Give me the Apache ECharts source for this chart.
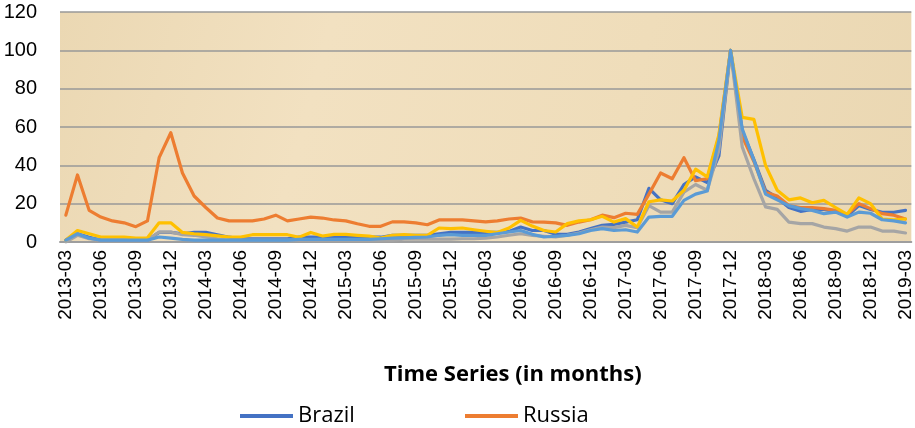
<!DOCTYPE html>
<html>
<head>
<meta charset="utf-8">
<script src="https://cdn.jsdelivr.net/npm/echarts@6/dist/echarts.min.js"></script>
<style>
html,body{margin:0;padding:0;background:#fff;}
#chart{width:915px;height:428px;}
</style>
</head>
<body>
<div id="chart"></div>
<script>
// Months 2013-03 .. 2019-03
const months = [];
for (let y = 2013; y <= 2019; y++) {
  for (let m = 1; m <= 12; m++) {
    if ((y === 2013 && m < 3) || (y === 2019 && m > 3)) continue;
    months.push(y + '-' + (m < 10 ? '0' + m : '' + m));
  }
}
const yTicks = [0, 20, 40, 60, 80, 100, 120];

const brazil = [1,4.3,2.5,1,1,1,1,1,5,5,4.3,5,5,3.8,2.5,1.7,1.7,1.7,1.7,1.7,
  2.5,2.5,2.5,2.5,2.5,2.5,2.5,2.5,3.5,3.5,3.5,3.5,4.3,5,5,5,5,5,5.5,7.8,
  6,6,4,4,5.2,7,8.7,9.2,10.4,11.6,28,22,20,30,34,31,45,100,58,43,
  27,23,18,16,17,17,16,13.5,19,17,15.5,15.5,16.5];
const russia = [14,35,16.5,13,11,10,8,11,44,57,36,24,18,12.5,11,11,11,12,14,11,
  12,13,12.5,11.5,11,9.5,8.2,8.2,10.5,10.5,10,9,11.5,11.5,11.5,11,10.5,11,12,12.5,
  10.5,10.4,10,8.7,10.4,11.6,14,12.7,15,14.4,25,36,33,44,32,33,55,100,55,42,
  26,24,19,18,18,17.4,16.5,14.4,20,17.4,14.8,14,12];
const india = [0,3.5,1.7,1,1,1,1,1,5.2,5.2,3.8,3.5,2.6,1.7,1,1,1,1,1,1,
  1,1,1,1,1,1,1,1,1,1.5,1.5,1.5,1.5,1.5,1.7,1.7,2,2.6,3.5,4.3,
  3.5,3,2.6,3.5,4.7,6.4,7.8,7.5,8.7,7.5,19,15.6,15.6,26,30,27,48,100,49.6,33,
  18.3,17,10.4,9.6,9.6,7.8,7,5.7,7.8,7.8,5.7,5.7,4.7];
const china = [1,6,4.3,2.6,2.6,2.6,2,2.2,10,10,5,4.3,3.8,3.2,2.6,2.6,3.8,3.8,3.8,3.8,
  2.5,5,3.1,4,4,3.5,3.1,2,3.5,3.8,3.5,3.5,7.3,7,7.3,6.4,5.6,4.9,7.3,11.3,
  8.3,6,5.2,9.6,11,11.6,13.4,10.4,12.2,7.8,21,22,21.4,27,38,34,56,100,65,64,
  40,27,22,23,20.5,21.7,18,14.4,23,20,12,11.5,12];
const southAfrica = [1,4.3,2,1,1,1,1,1,2.6,2,1.4,1,1,1,1,1,1,1,1,1,
  1.4,1.4,1.4,1.4,1.4,1.4,1.4,1.7,2,2.2,2.4,2.6,3.5,3.8,3.5,3.5,3.5,4.3,5.2,6,
  4,2.6,3,3.5,4.3,6,7,6,6.4,5.2,13,13.4,13.4,21.7,25,26.6,53,100,59,42.6,
  25,22,19,17.4,16.5,14.8,15.6,13,15.6,15,11.6,11,10];

const seriesNames = ['Brazil', 'Russia', 'India', 'China', 'South Africa'];
const seriesData = [brazil, russia, india, china, southAfrica];
const colors = ['#4472C4', '#ED7D31', '#A5A5A5', '#FFC000', '#5B9BD5'];

const chart = echarts.init(document.getElementById('chart'), null, {renderer: 'canvas'});
const option = {
  animation: false,
  color: colors,
  grid: {
    left: 60, right: 2, top: 12, bottom: 186,
    show: true, borderWidth: 0,
    backgroundColor: {
      type: 'linear', x: 0, y: 0, x2: 1, y2: 1,
      colorStops: [
        {offset: 0, color: '#EBD8B3'},
        {offset: 0.3, color: '#F2E1C1'},
        {offset: 0.65, color: '#EFDDBA'},
        {offset: 1, color: '#EAD7B2'}
      ]
    }
  },
  legend: [
    {
      data: ['Brazil'], left: 240, top: 405, padding: 0,
      icon: 'rect', itemWidth: 53, itemHeight: 4,
      textStyle: {fontFamily: 'Open Sans', fontSize: 22, color: '#000'}
    },
    {
      data: ['Russia'], left: 465, top: 405, padding: 0,
      icon: 'rect', itemWidth: 53, itemHeight: 4,
      textStyle: {fontFamily: 'Open Sans', fontSize: 22, color: '#000'}
    }
  ],
  graphic: [{
    type: 'text', left: 384, top: 364,
    style: {
      text: 'Time Series (in months)', fill: '#000',
      font: 'bold 22px "Open Sans"'
    }
  }],
  xAxis: {
    type: 'category',
    data: months,
    boundaryGap: true,
    axisLine: {show: true, lineStyle: {color: '#9E9E9E', width: 2}},
    axisTick: {show: false},
    axisLabel: {
      interval: 2, rotate: 90, margin: 8,
      fontFamily: 'Liberation Sans', fontSize: 19, color: '#000'
    },
    splitLine: {show: false}
  },
  yAxis: {
    type: 'value',
    min: 0, max: 120, interval: 20,
    axisLine: {show: false},
    axisTick: {show: false},
    axisLabel: {
      margin: 23, fontFamily: 'Liberation Sans', fontSize: 20, color: '#000',
      formatter: function (v) { return yTicks.indexOf(v) >= 0 ? String(v) : ''; }
    },
    splitLine: {show: true, lineStyle: {color: '#999999', width: 1.5}}
  },
  series: seriesNames.map(function (name, k) {
    return {
      name: name, type: 'line', data: seriesData[k],
      showSymbol: false, symbol: 'none',
      lineStyle: {width: 3.2, color: colors[k], cap: 'round', join: 'round'},
      itemStyle: {color: colors[k]},
      z: 2 + k
    };
  })
};
chart.setOption(option);
</script>
</body>
</html>
